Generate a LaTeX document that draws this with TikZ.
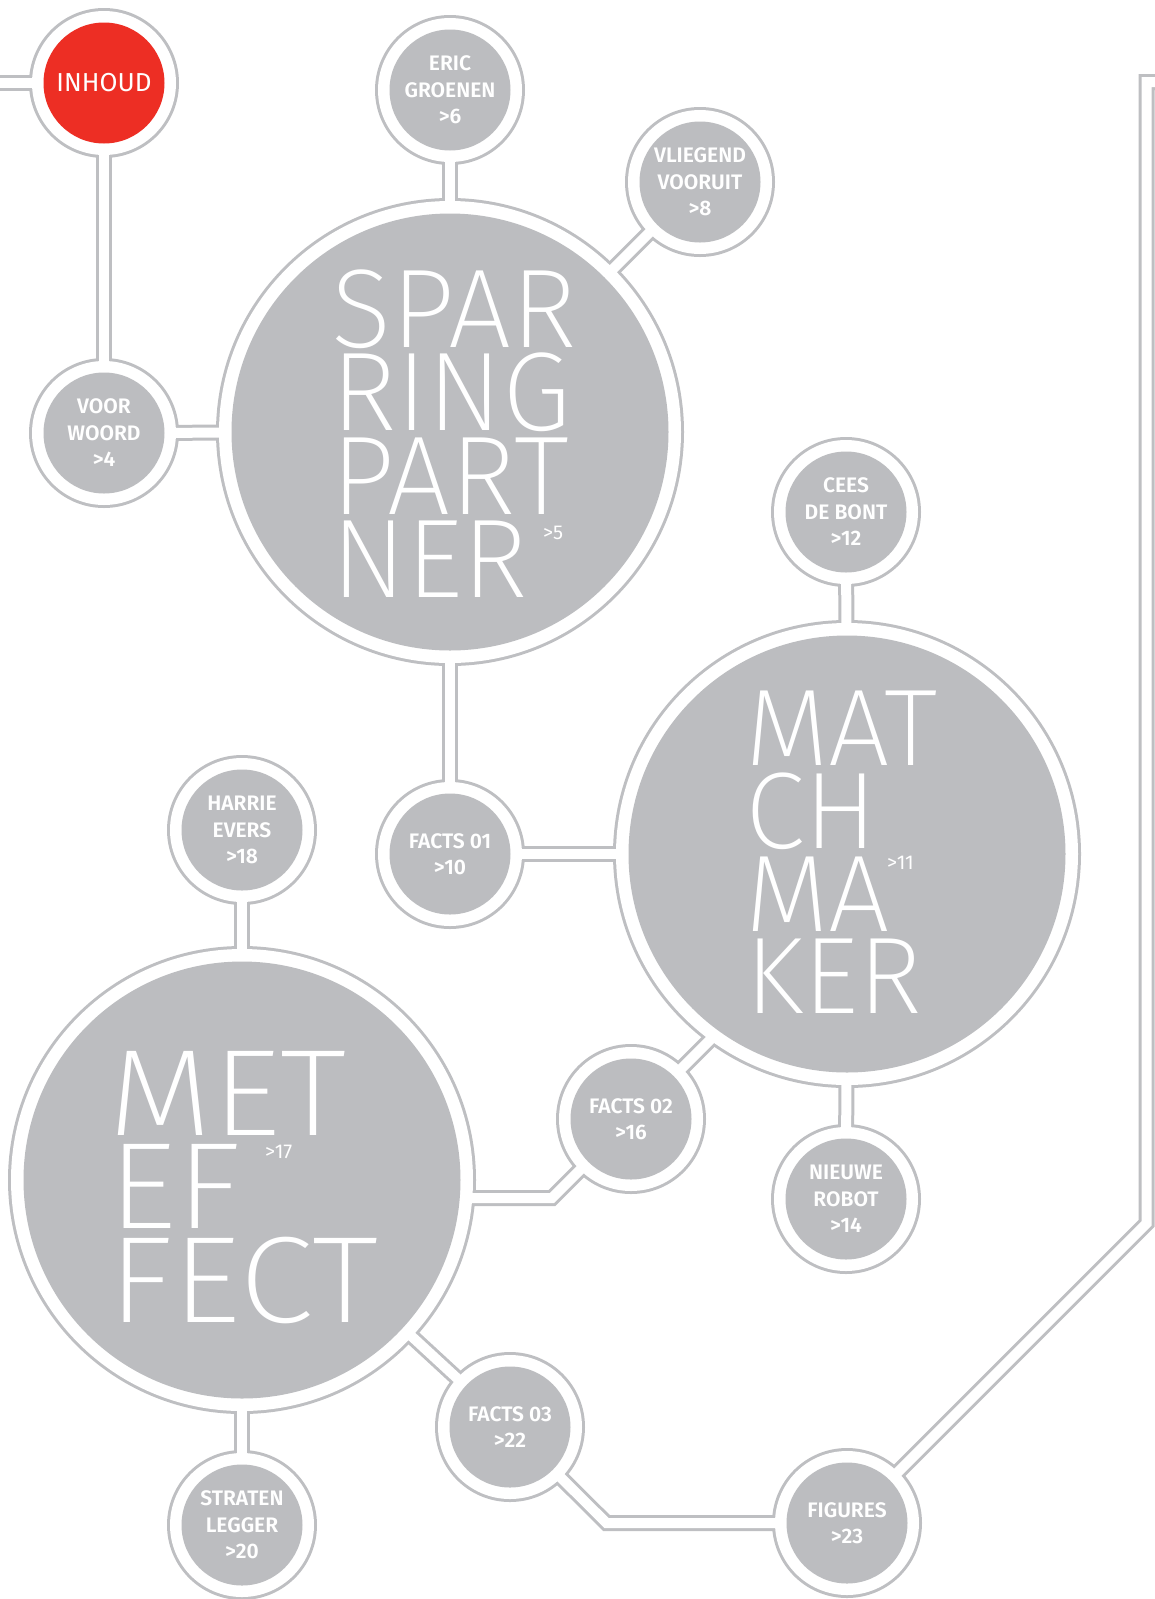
\documentclass[tikz,border=0pt]{standalone}
\usepackage{fontspec}
\usetikzlibrary{positioning}
\newfontfamily\thinfont{Fira Sans ExtraLight}
\newfontfamily\widethinfont{Fira Sans ExtraLight}[FakeStretch=1.1]
\newfontfamily\tagfont{Fira Sans SemiBold}
\newfontfamily\bookfont{Fira Sans}
\definecolor{bubblegray}{RGB}{188,189,192}
\definecolor{rimgray}{RGB}{190,191,194}
\definecolor{inhoudred}{RGB}{237,46,36}
\pgfdeclarelayer{rim}
\pgfdeclarelayer{pad}
\pgfsetlayers{rim,pad,main}

\tikzset{
  small/.style={circle, fill=bubblegray, minimum size=121pt, inner sep=0pt,
    text=white, align=center, font=\tagfont\fontsize{21}{26.5}\selectfont},
  big/.style={circle, fill=bubblegray, minimum size=437pt, inner sep=0pt},
  titleline/.style={inner sep=0pt, text=white, text depth=0pt, anchor=north west},
  spartitle/.style={titleline, text height=77pt, font=\thinfont\fontsize{112}{112}\selectfont},
  matchtitle/.style={titleline, text height=75pt, font=\thinfont\fontsize{109}{109}\selectfont},
  efftitle/.style={titleline, text height=85pt, font=\widethinfont\fontsize{123}{123}\selectfont},
  pagenum/.style={anchor=west, inner sep=0pt, text=white,
    font=\bookfont\fontsize{20}{24}\selectfont},
  rimline/.style={draw=rimgray, line width=16pt, line join=miter},
  padline/.style={draw=white, line width=10pt, line join=miter}
}

% ring round a bubble: gray rim, white pad inside
\newcommand\bubblerim[2]{%
  \begin{pgfonlayer}{rim}\fill[rimgray] (#1) circle[radius=#2pt+1.5pt];\end{pgfonlayer}
  \begin{pgfonlayer}{pad}\fill[white] (#1) circle[radius=#2pt-1.5pt];\end{pgfonlayer}}
% double connector
\newcommand\link[1]{%
  \begin{pgfonlayer}{rim}\draw[rimline] #1;\end{pgfonlayer}
  \begin{pgfonlayer}{pad}\draw[padline] #1;\end{pgfonlayer}}

\begin{document}
\begin{tikzpicture}[x=1pt, y=-1pt]
\useasboundingbox (0,0) rectangle (1155,1599);

% big bubbles
\node[big] (sparring) at (450,432) {};
\node[big] (match) at (847,854) {};
\node[big] (meteffect) at (242,1180) {};

% small bubbles
\node[small, fill=inhoudred, font=\bookfont\fontsize{26}{30}\selectfont] (inhoud) at (104,83) {INHOUD};
\node[small] (eric) at (450,90) {ERIC\\GROENEN\\>6};
\node[small] (vliegend) at (700,182) {VLIEGEND\\VOORUIT\\>8};
\node[small] (voor) at (104,433) {VOOR\\WOORD\\>4};
\node[small] (cees) at (846,512) {CEES\\DE BONT\\>12};
\node[small] (facts01) at (450,854) {FACTS 01\\>10};
\node[small] (harrie) at (242,830) {HARRIE\\EVERS\\>18};
\node[small] (facts02) at (631,1119) {FACTS 02\\>16};
\node[small] (nieuwe) at (846,1199) {NIEUWE\\ROBOT\\>14};
\node[small] (facts03) at (510,1427) {FACTS 03\\>22};
\node[small] (straten) at (242,1525) {STRATEN\\LEGGER\\>20};
\node[small] (figures) at (847,1523) {FIGURES\\>23};

% titles, one node per line
\node[spartitle] (spar) at (331,270) {SPAR};
\node[spartitle, below=6pt of spar.south west, anchor=north west] (ring) {RING};
\node[spartitle, below=6pt of ring.south west, anchor=north west] (part) {PART};
\node[spartitle, below=6pt of part.south west, anchor=north west] (ner) {NER};
\node[pagenum] (sparnum) at (543,533) {>5};

\node[matchtitle] (mat) at (745,690) {MAT};
\node[matchtitle, below=7.5pt of mat.south west, anchor=north west] (ch) {CH};
\node[matchtitle, below=7.5pt of ch.south west, anchor=north west] (ma) {MA};
\node[matchtitle, below=7.5pt of ma.south west, anchor=north west] (ker) {KER};
\node[pagenum] (matchnum) at (887,863) {>11};

\node[efftitle] (met) at (108,1050) {MET};
\node[efftitle, below=8pt of met.south west, anchor=north west] (ef) {EF};
\node[efftitle, below=8pt of ef.south west, anchor=north west] (fect) {FECT};
\node[pagenum] (effnum) at (265,1152) {>17};

% rings
\foreach \n in {sparring,match,meteffect}
  \bubblerim{\n}{232.5};
\foreach \n in {inhoud,eric,vliegend,voor,cees,facts01,harrie,facts02,nieuwe,facts03,straten,figures}
  \bubblerim{\n}{73.5};

% connectors
\coordinate (leftend) at (-20,83);
\coordinate (matchjoin) at (731,1019);
\coordinate (effbend) at (552,1198);
\coordinate (figbend) at (606.5,1523);
\coordinate (rightbend) at (1146.5,1223.5);
\coordinate (topend) at (1175,82);
\link{(leftend) -- (inhoud)}
\link{(inhoud) -- (voor)}
\link{(voor) -- (sparring)}
\link{(sparring) -- (eric)}
\link{(sparring) -- (vliegend)}
\link{(sparring) -- (facts01)}
\link{(facts01) -- (match)}
\link{(match) -- (cees)}
\link{(facts02) -- (matchjoin)}
\link{(match) -- (nieuwe)}
\link{(meteffect) -- (harrie)}
\link{(meteffect) -- (straten)}
\link{(meteffect.center |- effbend) -- (effbend) -- (facts02)}
\link{(meteffect) -- (facts03)}
\link{(facts03) -- (figbend) -- (figures)}
\link{(figures) -- (rightbend) -- (rightbend |- topend) -- (topend)}
\end{tikzpicture}
\end{document}
